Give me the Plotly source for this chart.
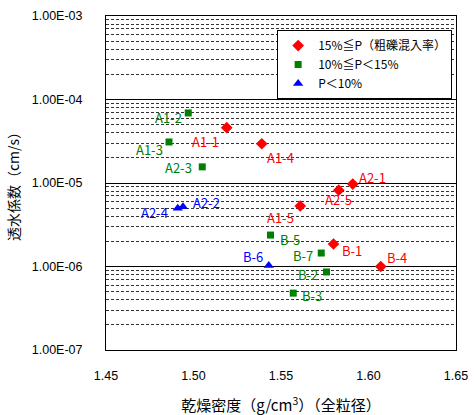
import math
import plotly.graph_objects as go

# ---- data ----
red_names = ["A1-1", "A1-4", "A2-1", "A2-5", "A1-5", "B-1", "B-4"]
red_x = [1.519, 1.539, 1.591, 1.583, 1.561, 1.580, 1.607]
red_y = [4.6e-5, 2.95e-5, 9.7e-6, 8.2e-6, 5.3e-6, 1.86e-6, 1.0e-6]

green_names = ["A1-2", "A1-3", "A2-3", "B-5", "B-7", "B-2", "B-3"]
green_x = [1.497, 1.486, 1.505, 1.544, 1.573, 1.576, 1.557]
green_y = [6.9e-5, 3.1e-5, 1.56e-5, 2.38e-6, 1.45e-6, 8.6e-7, 4.8e-7]

blue_names = ["A2-4", "A2-2", "B-6"]
blue_x = [1.491, 1.494, 1.543]
blue_y = [5.0e-6, 5.2e-6, 1.03e-6]

legend_names = ["15%≦P（粗礫混入率）", "10%≦P＜15%", "P＜10%"]

y_tickvals = [1e-7, 1e-6, 1e-5, 1e-4, 1e-3]
y_ticktext = ["1.00E-07", "1.00E-06", "1.00E-05", "1.00E-04", "1.00E-03"]
x_tickvals = [1.45, 1.50, 1.55, 1.60, 1.65]
x_ticktext = ["1.45", "1.50", "1.55", "1.60", "1.65"]

# label offsets (pixels) for each point label
red_off = [(-21, -14), (19, -14), (20, 7), (0, -9), (-20, -11), (18, -6), (16, 9)]
green_off = [(-20, -5), (-20, -8), (-24, -1), (19, -4), (-18, -2), (-19, -3), (19, -2)]
blue_off = [(-23, -4), (23, 4), (-16, 9)]

FONT = "Noto Sans CJK JP"
NUMFONT = "Liberation Sans"

fig = go.Figure()
groups = [
    (red_names, red_x, red_y, red_off, "#FF0000", "diamond", 9, legend_names[0]),
    (green_names, green_x, green_y, green_off, "#008000", "square", 7, legend_names[1]),
    (blue_names, blue_x, blue_y, blue_off, "#0000FF", "triangle-up", 9, legend_names[2]),
]
annotations = []
for names, xs, ys, offs, color, sym, size, lname in groups:
    fig.add_trace(go.Scatter(
        x=xs, y=ys, mode="markers", name=lname,
        marker=dict(symbol=sym, color=color, size=size, line=dict(width=0)),
    ))
    for n, xv, yv, (dx, dy) in zip(names, xs, ys, offs):
        annotations.append(dict(
            x=xv, y=math.log10(yv), xref="x", yref="y", text=n, showarrow=False,
            xshift=dx, yshift=dy, font=dict(family=FONT, size=13, color=color),
        ))

minor_vals = []
for e in range(-7, -3):
    for m in range(2, 10):
        minor_vals.append(m * 10 ** e)

fig.update_layout(
    width=475, height=415,
    margin=dict(l=106, r=19, t=16, b=65, autoexpand=False),
    paper_bgcolor="white", plot_bgcolor="white",
    font=dict(family=FONT, size=12, color="black"),
    showlegend=True,
    legend=dict(
        x=0.989, y=0.958, xanchor="right", yanchor="top",
        bgcolor="white", bordercolor="black", borderwidth=1,
        font=dict(family=FONT, size=12, color="black"),
        tracegroupgap=0,
    ),
    annotations=annotations,
    xaxis=dict(
        range=[1.45, 1.65], tickvals=x_tickvals, ticktext=x_ticktext,
        showgrid=False, zeroline=False, ticks="",
        showline=True, linecolor="black", linewidth=1, mirror=True,
        tickfont=dict(family=NUMFONT, size=12.5), ticklabelstandoff=14,
        title=dict(text="乾燥密度（g/cm<sup>3</sup>）（全粒径）", font=dict(family=FONT, size=15), standoff=19),
    ),
    yaxis=dict(
        type="log", range=[-7, -3], tickvals=y_tickvals, ticktext=y_ticktext,
        showgrid=True, gridcolor="black", gridwidth=1, zeroline=False, ticks="",
        showline=True, linecolor="black", linewidth=1, mirror=True,
        tickfont=dict(family=NUMFONT, size=12.5), ticklabelstandoff=20,
        minor=dict(tickvals=minor_vals, showgrid=True, gridcolor="#333333",
                   griddash="3px,2px", gridwidth=1, ticks=""),
        title=dict(text="透水係数（cm/s）", font=dict(family=FONT, size=14), standoff=8),
    ),
)

fig.write_html("out.html")
